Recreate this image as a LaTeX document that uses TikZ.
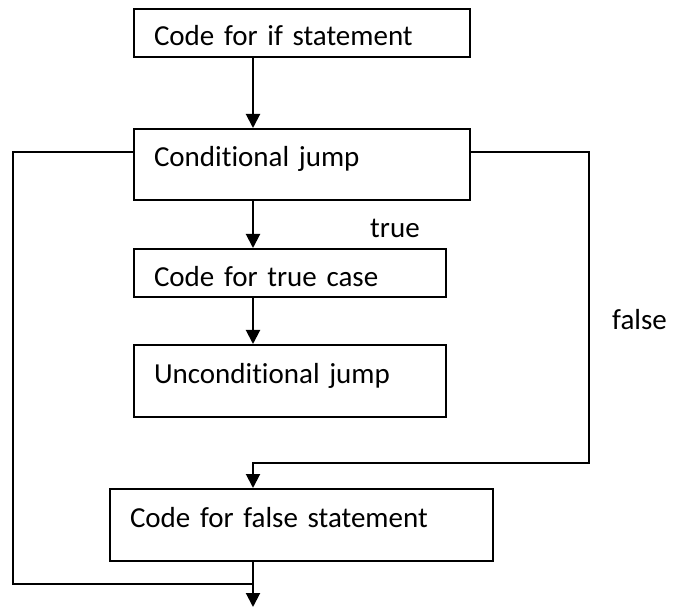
\documentclass[tikz,border=0pt]{standalone}
\usepackage{fontspec}
\setmainfont{Carlito}[Ligatures=NoCommon]
\usetikzlibrary{arrows.meta}
\begin{document}
\begin{tikzpicture}[x=1pt,y=-1pt,
  every node/.style={font=\fontsize{29}{34}\selectfont},
  box/.style={draw, line width=2pt, inner xsep=20pt, inner ysep=0pt,
              align=left, anchor=north west},
  link/.style={line width=2pt},
  flow/.style={link, -{Triangle[length=14pt,width=14pt]}},
  lbl/.style={anchor=base west, inner sep=0pt}]
\useasboundingbox (0,0) rectangle (693,609);

% statement boxes
\node[box, text width=296pt, text height=37pt, text depth=11pt] (ifc)   at (133,8)   {Code for if statement};
\node[box, text width=296pt, text height=38pt, text depth=33pt] (cj)    at (133,128) {Conditional jump};
\node[box, text width=272pt, text height=38pt, text depth=10pt] (tcase) at (133,248) {Code for true case};
\node[box, text width=272pt, text height=38pt, text depth=34pt] (uj)    at (133,344) {Unconditional jump};
\node[box, text width=343pt, text height=38pt, text depth=34pt] (fcase) at (109,488) {Code for false statement};

% branch labels
\node[lbl] (tl) at (370,238) {true};
\node[lbl] (fl) at (612,330) {false};

% routing points
\coordinate (spine) at (253,0);
\coordinate (tap)   at (0,152);
\coordinate (lc)    at (13,584);
\coordinate (join)  at (253,584);
\coordinate (rc)    at (589,463);
\coordinate (exit)  at (253,607);

% main flow
\draw[flow] (ifc.south -| spine) -- (cj.north -| spine);
\draw[flow] (cj.south -| spine) -- (tcase.north -| spine);
\draw[flow] (tcase.south -| spine) -- (uj.north -| spine);
\draw[flow] (fcase.south -| spine) -- (exit);

% jumps around the branches
\draw[link] (cj.west |- tap) -| (lc) -- (join);
\draw[flow] (cj.east |- tap) -| (rc) -| (fcase.north -| spine);
\end{tikzpicture}
\end{document}
